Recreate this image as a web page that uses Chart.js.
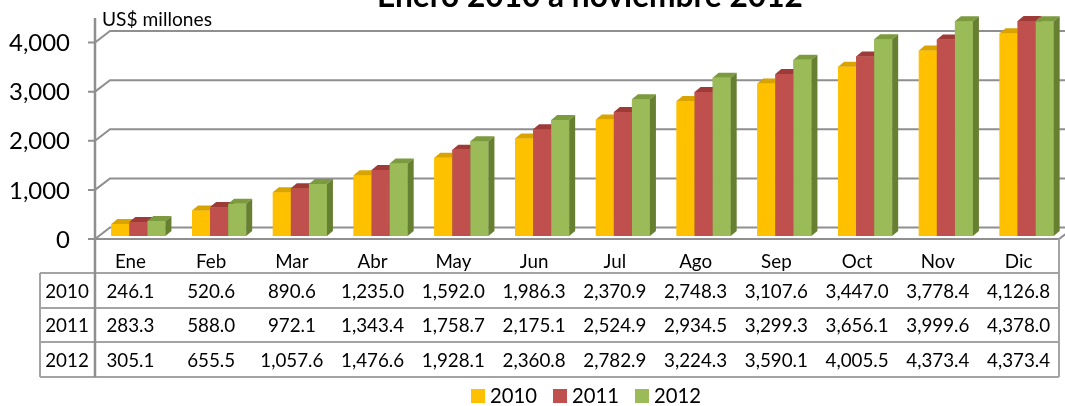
<!DOCTYPE html>
<html>
<head>
<meta charset="utf-8">
<script src="https://cdn.jsdelivr.net/npm/chart.js@4.4.0/dist/chart.umd.min.js"></script>
<style>
  html, body { margin: 0; padding: 0; background: #ffffff; overflow: hidden; }
  canvas { display: block; }
</style>
</head>
<body>
<canvas id="c" width="1065" height="406"></canvas>
<script>
// ---- data ----
const titleText = 'Enero 2010 a noviembre 2012';
const unitLabel = 'US$ millones';
const categories = ['Ene', 'Feb', 'Mar', 'Abr', 'May', 'Jun', 'Jul', 'Ago', 'Sep', 'Oct', 'Nov', 'Dic'];
const seriesNames = ['2010', '2011', '2012'];
const values2010 = [246.1, 520.6, 890.6, 1235.0, 1592.0, 1986.3, 2370.9, 2748.3, 3107.6, 3447.0, 3778.4, 4126.8];
const values2011 = [283.3, 588.0, 972.1, 1343.4, 1758.7, 2175.1, 2524.9, 2934.5, 3299.3, 3656.1, 3999.6, 4378.0];
const values2012 = [305.1, 655.5, 1057.6, 1476.6, 1928.1, 2360.8, 2782.9, 3224.3, 3590.1, 4005.5, 4373.4, 4373.4];
const yTicks = [0, 1000, 2000, 3000, 4000];
const yMax = 4500;

// ---- styles ----
const FAMILY = 'Lato, "Open Sans", sans-serif';
const colors = [
  { front: '#FFC000', top: '#D9A300', side: '#B88A00' },
  { front: '#C0504D', top: '#9E3A37', side: '#8C3431' },
  { front: '#9BBB59', top: '#7C9B3E', side: '#667F31' }
];
const GRID = '#8f8f8f';
const TABLE = '#a3a3a3';

const fmt = v => v.toLocaleString('en-US', { minimumFractionDigits: 1, maximumFractionDigits: 1 });
const fmtTick = v => v.toLocaleString('en-US');

function fitSize(ctx, text, width, weight) {
  ctx.font = weight + ' 100px ' + FAMILY;
  return 100 * width / ctx.measureText(text).width;
}

const excel3d = {
  id: 'excel3d',
  beforeDatasetsDraw(chart) {
    const { ctx, chartArea, scales: { x, y } } = chart;
    const W = chart.width;
    const frontX = chartArea.left + 5;   // front plane left
    const backX = frontX + 15;           // back wall left
    const fDy = 3, bDy = -8.5;
    ctx.save();
    ctx.strokeStyle = GRID;
    ctx.lineWidth = 2;
    yTicks.forEach(v => {
      const yp = y.getPixelForValue(v);
      const yf = yp + fDy, yb = yp + bDy;
      ctx.beginPath();
      ctx.moveTo(frontX - 7, yf);
      ctx.lineTo(frontX, yf);
      ctx.lineTo(backX, yb);
      ctx.lineTo(W + 5, yb);
      ctx.stroke();
    });
    const y0 = y.getPixelForValue(0);
    ctx.beginPath();
    ctx.moveTo(frontX, y0 + fDy);
    ctx.lineTo(chartArea.right, y0 + fDy);
    ctx.lineTo(chartArea.right + 15, y0 + bDy);
    ctx.stroke();
    const fs = fitSize(ctx, '4,000', 61, 'normal');
    ctx.font = 'normal ' + fs + 'px ' + FAMILY;
    ctx.fillStyle = '#000';
    ctx.textAlign = 'right';
    ctx.textBaseline = 'middle';
    yTicks.forEach(v => {
      ctx.fillText(fmtTick(v), 70, y.getPixelForValue(v) + fDy + 1);
    });
    const us = fitSize(ctx, unitLabel, 110, 'normal');
    ctx.font = 'normal ' + us + 'px ' + FAMILY;
    ctx.textAlign = 'left';
    ctx.textBaseline = 'alphabetic';
    ctx.fillText(unitLabel, 102, 26);
    ctx.restore();
    ctx.save();
    ctx.translate(8, 0);
  },
  afterDatasetsDraw(chart) {
    const { ctx } = chart;
    const DX = 6, DY = 5;
    // repaint left-to-right so each bar hides its left neighbour's side face
    chart.data.datasets.forEach((ds, i) => {
      const c = colors[i];
      chart.getDatasetMeta(i).data.forEach(el => {
        el.draw(ctx);
        const p = el.getProps(['x', 'y', 'base', 'width'], true);
        const l = p.x - p.width / 2, r = p.x + p.width / 2;
        ctx.fillStyle = c.top;
        ctx.beginPath();
        ctx.moveTo(l, p.y);
        ctx.lineTo(r, p.y);
        ctx.lineTo(r + DX, p.y - DY);
        ctx.lineTo(l + DX, p.y - DY);
        ctx.closePath();
        ctx.fill();
        ctx.fillStyle = c.side;
        ctx.beginPath();
        ctx.moveTo(r, p.y);
        ctx.lineTo(r + DX, p.y - DY);
        ctx.lineTo(r + DX, p.base - DY);
        ctx.lineTo(r, p.base);
        ctx.closePath();
        ctx.fill();
      });
    });
    ctx.restore();
  },
  afterDraw(chart) {
    const { ctx, chartArea, scales: { x, y } } = chart;
    const frontX = chartArea.left + 5;
    const tLeft = 40, tRight = chartArea.right;
    const rowLines = [273, 308, 342, 377];
    ctx.save();
    ctx.strokeStyle = TABLE;
    ctx.lineWidth = 2;
    ctx.beginPath();
    rowLines.forEach(yy => { ctx.moveTo(tLeft, yy); ctx.lineTo(tRight, yy); });
    ctx.moveTo(tLeft, rowLines[0]); ctx.lineTo(tLeft, rowLines[3]);
    ctx.moveTo(tRight, y.getPixelForValue(0) + 3); ctx.lineTo(tRight, rowLines[3]);
    ctx.stroke();
    ctx.strokeStyle = GRID;
    ctx.lineWidth = 2.5;
    ctx.beginPath();
    ctx.moveTo(frontX, y.getPixelForValue(yMax) + 3);
    ctx.lineTo(frontX, rowLines[3]);
    ctx.stroke();

    const fs = fitSize(ctx, '246.1', 48, 'normal');
    ctx.font = 'normal ' + fs + 'px ' + FAMILY;
    ctx.fillStyle = '#000';
    ctx.textAlign = 'center';
    ctx.textBaseline = 'middle';
    categories.forEach((cat, i) => {
      ctx.fillText(cat, x.getPixelForValue(i), 262);
    });
    const rows = [values2010, values2011, values2012];
    rows.forEach((vals, r) => {
      const yy = (rowLines[r] + rowLines[r + 1]) / 2 + 1;
      ctx.fillText(seriesNames[r], 67, yy);
      vals.forEach((v, i) => ctx.fillText(fmt(v), x.getPixelForValue(i), yy));
    });

    const ts = fitSize(ctx, titleText, 426, 'bold');
    ctx.font = 'bold ' + ts + 'px ' + FAMILY;
    ctx.textBaseline = 'alphabetic';
    ctx.fillText(titleText, 590, 7);

    const ls = fitSize(ctx, '2010', 47, 'normal');
    ctx.font = 'normal ' + ls + 'px ' + FAMILY;
    ctx.textAlign = 'left';
    ctx.textBaseline = 'middle';
    const box = 14, gapBox = 5, gapItem = 16;
    const widths = seriesNames.map(s => box + gapBox + ctx.measureText(s).width);
    const total = widths.reduce((a, b) => a + b, 0) + gapItem * (seriesNames.length - 1);
    let lx = 586 - total / 2;
    seriesNames.forEach((s, i) => {
      ctx.fillStyle = colors[i].front;
      ctx.fillRect(lx, 389, box, box);
      ctx.fillStyle = '#000';
      ctx.fillText(s, lx + box + gapBox, 396);
      lx += widths[i] + gapItem;
    });
    ctx.restore();
  }
};

new Chart(document.getElementById('c'), {
  type: 'bar',
  data: {
    labels: categories,
    datasets: [values2010, values2011, values2012].map((vals, i) => ({
      label: seriesNames[i],
      data: vals,
      backgroundColor: colors[i].front,
      borderWidth: 0,
      categoryPercentage: 0.67,
      barPercentage: 1.0,
      clip: false
    }))
  },
  options: {
    responsive: false,
    devicePixelRatio: 1,
    animation: false,
    layout: { padding: { left: 90, right: 6, top: 15, bottom: 170 } },
    scales: {
      x: { display: false, offset: true },
      y: { display: false, min: 0, max: yMax }
    },
    plugins: {
      legend: { display: false },
      title: { display: false },
      tooltip: { enabled: false }
    }
  },
  plugins: [excel3d]
});
</script>
</body>
</html>
